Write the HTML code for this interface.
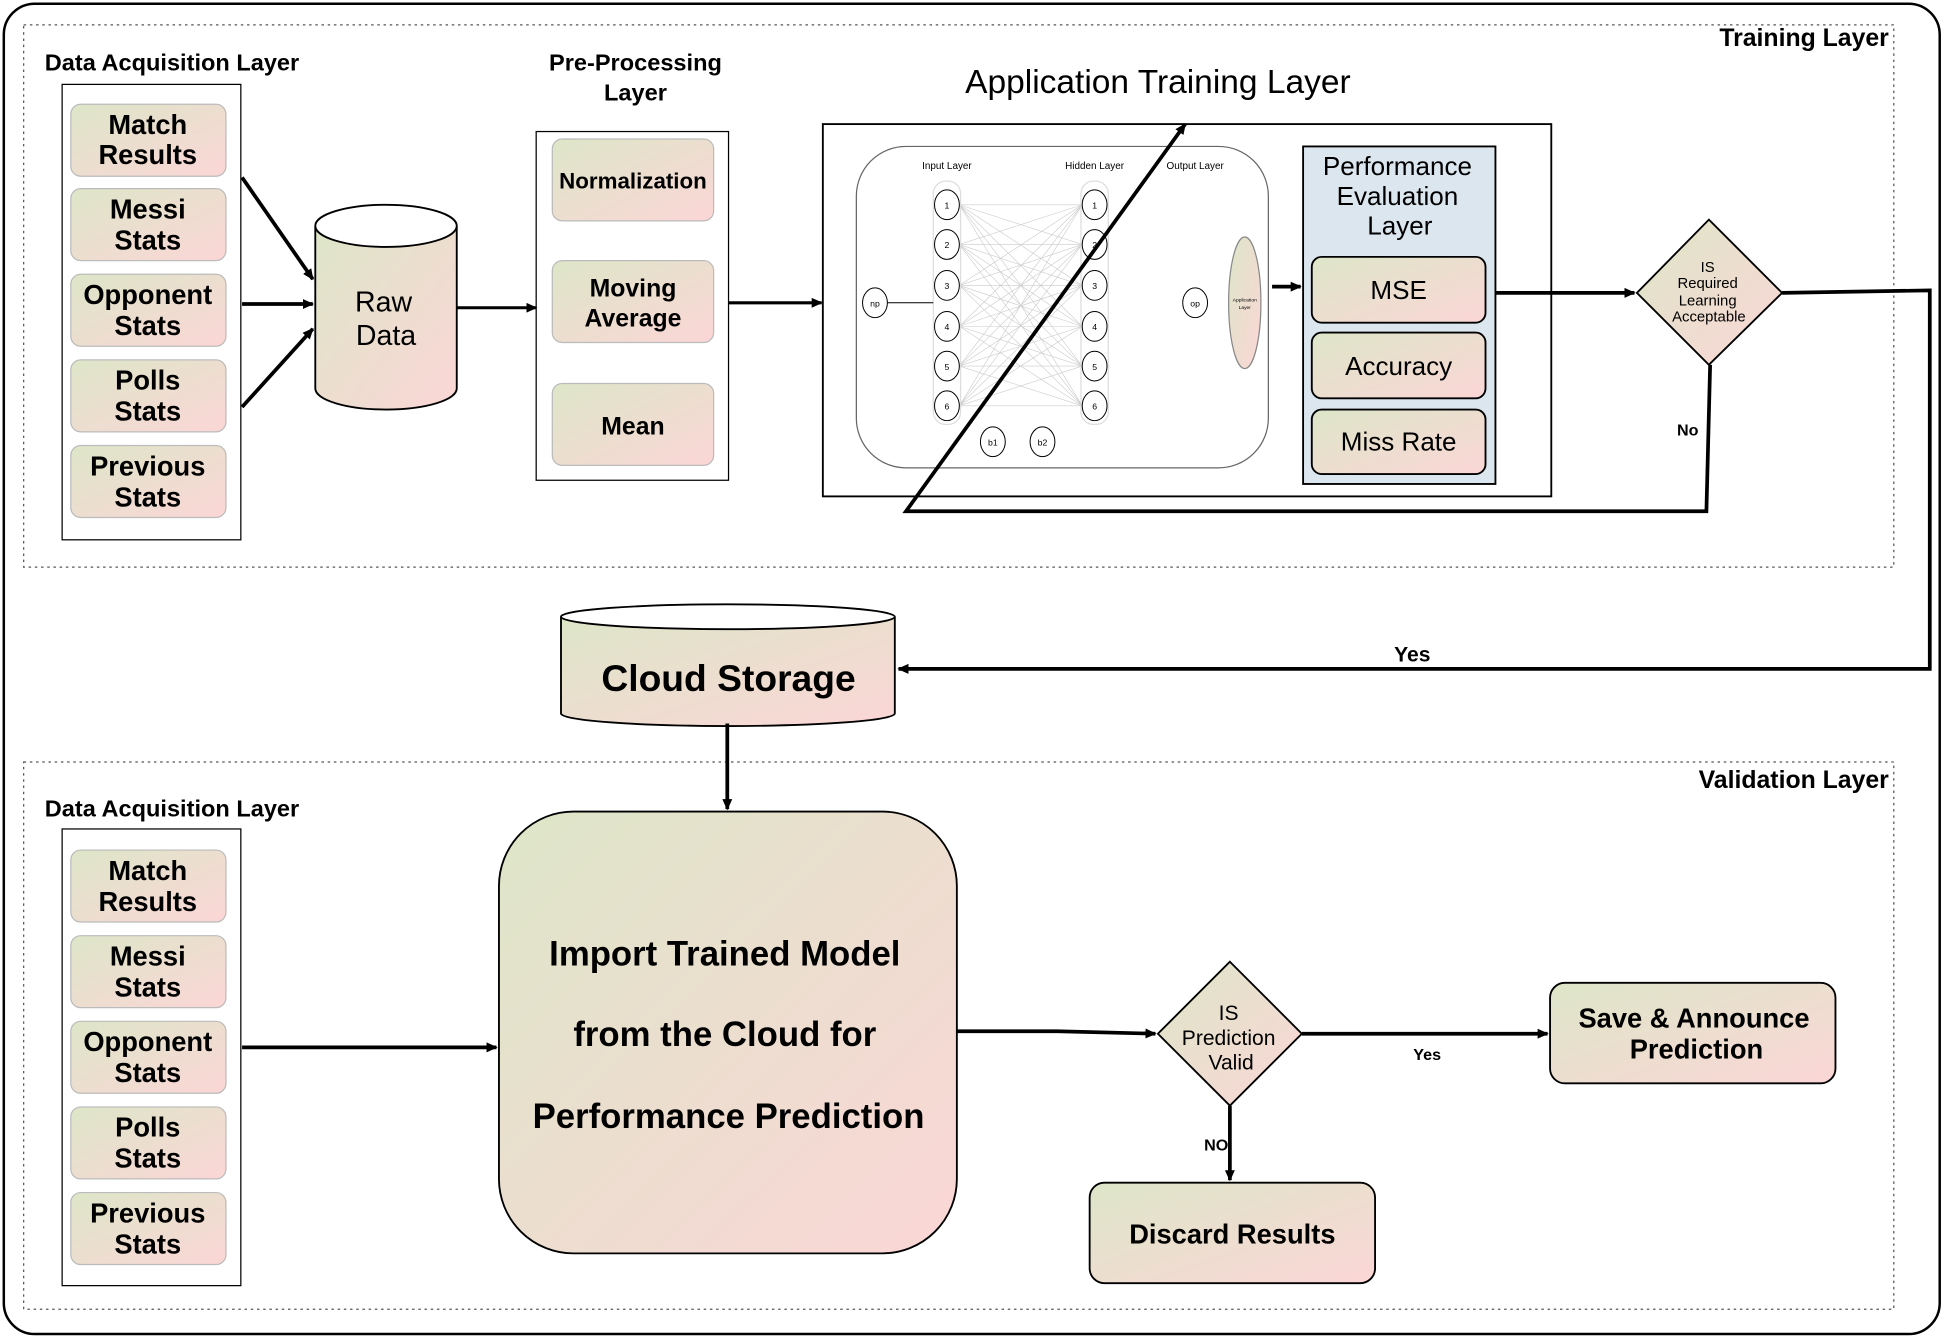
<!DOCTYPE html>
<html><head><meta charset="utf-8"><style>
html,body{margin:0;padding:0;background:#fff;}
svg{display:block;}
text{font-family:"Liberation Sans",sans-serif;}
</style></head><body>
<svg width="1946" height="1339" viewBox="0 0 1568 1079" xmlns="http://www.w3.org/2000/svg">
<defs>
<linearGradient id="g" x1="0" y1="0" x2="1" y2="1">
<stop offset="0" stop-color="#dde6c8"/><stop offset="1" stop-color="#fbd6d6"/>
</linearGradient>
<marker id="a" markerWidth="10" markerHeight="10" refX="8" refY="5" orient="auto" markerUnits="userSpaceOnUse"><path d="M0,1 L9,5 L0,9 z" fill="#000"/></marker>
</defs>
<rect x="3" y="3" width="1560" height="1072" rx="25" fill="#fff" stroke="#000" stroke-width="2"/>
<rect x="19" y="20" width="1507" height="437" fill="none" stroke="#555" stroke-dasharray="2,3"/>
<rect x="19" y="614" width="1507" height="441" fill="none" stroke="#555" stroke-dasharray="2,3"/>
<text x="1522" y="37" text-anchor="end" font-size="20" font-weight="bold">Training Layer</text>
<text x="1522" y="635" text-anchor="end" font-size="20" font-weight="bold">Validation Layer</text>

<g font-weight="bold" font-size="19">
<text x="36" y="57">Data Acquisition Layer</text>
<text x="36" y="658">Data Acquisition Layer</text>
<text x="512" y="57" text-anchor="middle">Pre-Processing</text>
<text x="512" y="81" text-anchor="middle">Layer</text>
</g>
<rect x="50" y="68" width="144" height="367" fill="#fff" stroke="#000"/>
<rect x="50" y="668" width="144" height="368" fill="#fff" stroke="#000"/>
<g stroke="#bbb" fill="url(#g)">
<rect x="57" y="84" width="125" height="58" rx="8"/><rect x="57" y="152" width="125" height="58" rx="8"/><rect x="57" y="221" width="125" height="58" rx="8"/><rect x="57" y="290" width="125" height="58" rx="8"/><rect x="57" y="359" width="125" height="58" rx="8"/>
<rect x="57" y="685" width="125" height="58" rx="8"/><rect x="57" y="754" width="125" height="58" rx="8"/><rect x="57" y="823" width="125" height="58" rx="8"/><rect x="57" y="892" width="125" height="58" rx="8"/><rect x="57" y="961" width="125" height="58" rx="8"/>
</g>
<g font-weight="bold" font-size="22" text-anchor="middle">
<text x="119" y="108">Match</text><text x="119" y="132">Results</text>
<text x="119" y="176">Messi</text><text x="119" y="201">Stats</text>
<text x="119" y="245">Opponent</text><text x="119" y="270">Stats</text>
<text x="119" y="314">Polls</text><text x="119" y="339">Stats</text>
<text x="119" y="383">Previous</text><text x="119" y="408">Stats</text>
<text x="119" y="709">Match</text><text x="119" y="734">Results</text>
<text x="119" y="778">Messi</text><text x="119" y="803">Stats</text>
<text x="119" y="847">Opponent</text><text x="119" y="872">Stats</text>
<text x="119" y="916">Polls</text><text x="119" y="941">Stats</text>
<text x="119" y="985">Previous</text><text x="119" y="1010">Stats</text>
</g>
<!-- Raw data cylinder -->
<path d="M254,182 V313 A57,17 0 0 0 368,313 V182" fill="url(#g)" stroke="#000" stroke-width="1.5"/>
<ellipse cx="311" cy="182" rx="57" ry="17" fill="#fff" stroke="#000" stroke-width="1.5"/>
<text x="309" y="251" text-anchor="middle" font-size="23">Raw</text>
<text x="311" y="278" text-anchor="middle" font-size="23">Data</text>
<!-- preprocessing -->
<rect x="432" y="106" width="155" height="281" fill="#fff" stroke="#000"/>
<g stroke="#bbb" fill="url(#g)">
<rect x="445" y="112" width="130" height="66" rx="8"/><rect x="445" y="210" width="130" height="66" rx="8"/><rect x="445" y="309" width="130" height="66" rx="8"/>
</g>
<g font-weight="bold" font-size="20" text-anchor="middle">
<text x="510" y="152" font-size="18">Normalization</text>
<text x="510" y="239">Moving</text><text x="510" y="263">Average</text>
<text x="510" y="350">Mean</text>
</g>
<text x="933" y="75" text-anchor="middle" font-size="27">Application Training Layer</text>
<rect x="663" y="100" width="587" height="300" fill="none" stroke="#000" stroke-width="1.5"/>
<rect x="690" y="118" width="332" height="259" rx="40" fill="#fff" stroke="#666"/>
<g stroke="#ccc" stroke-width="0.5">
<path d="M773,165L872,165M773,165L872,197M773,165L872,230M773,165L872,263M773,165L872,295M773,165L872,327
M773,197L872,165M773,197L872,197M773,197L872,230M773,197L872,263M773,197L872,295M773,197L872,327
M773,230L872,165M773,230L872,197M773,230L872,230M773,230L872,263M773,230L872,295M773,230L872,327
M773,263L872,165M773,263L872,197M773,263L872,230M773,263L872,263M773,263L872,295M773,263L872,327
M773,295L872,165M773,295L872,197M773,295L872,230M773,295L872,263M773,295L872,295M773,295L872,327
M773,327L872,165M773,327L872,197M773,327L872,230M773,327L872,263M773,327L872,295M773,327L872,327"/>
</g>
<rect x="752" y="146" width="22" height="196" rx="10" fill="none" stroke="#ddd"/>
<rect x="871" y="146" width="22" height="196" rx="10" fill="none" stroke="#ddd"/>
<line x1="715" y1="244" x2="752" y2="244" stroke="#000" stroke-width="0.8"/>
<g fill="#fff" stroke="#000" stroke-width="0.8">
<ellipse cx="763" cy="165" rx="10" ry="12"/><ellipse cx="763" cy="197" rx="10" ry="12"/><ellipse cx="763" cy="230" rx="10" ry="12"/><ellipse cx="763" cy="263" rx="10" ry="12"/><ellipse cx="763" cy="295" rx="10" ry="12"/><ellipse cx="763" cy="327" rx="10" ry="12"/>
<ellipse cx="882" cy="165" rx="10" ry="12"/><ellipse cx="882" cy="197" rx="10" ry="12"/><ellipse cx="882" cy="230" rx="10" ry="12"/><ellipse cx="882" cy="263" rx="10" ry="12"/><ellipse cx="882" cy="295" rx="10" ry="12"/><ellipse cx="882" cy="327" rx="10" ry="12"/>
<ellipse cx="705" cy="244" rx="10" ry="12"/><ellipse cx="963" cy="244" rx="10" ry="12"/>
<ellipse cx="800" cy="356" rx="10" ry="12"/><ellipse cx="840" cy="356" rx="10" ry="12"/>
</g>
<ellipse cx="1003" cy="244" rx="13" ry="53" fill="url(#g)" stroke="#888"/>
<g font-size="7" text-anchor="middle">
<text x="763" y="168">1</text><text x="763" y="200">2</text><text x="763" y="233">3</text><text x="763" y="266">4</text><text x="763" y="298">5</text><text x="763" y="330">6</text>
<text x="882" y="168">1</text><text x="882" y="200">2</text><text x="882" y="233">3</text><text x="882" y="266">4</text><text x="882" y="298">5</text><text x="882" y="330">6</text>
<text x="705" y="247">np</text><text x="963" y="247">op</text><text x="800" y="359">b1</text><text x="840" y="359">b2</text>
<text x="1003" y="243" font-size="4">Application</text><text x="1003" y="249" font-size="4">Layer</text>
<text x="763" y="136" font-size="8">Input Layer</text><text x="882" y="136" font-size="8">Hidden Layer</text><text x="963" y="136" font-size="8">Output Layer</text>
</g>
<rect x="1050" y="118" width="155" height="272" fill="#dce6ef" stroke="#000" stroke-width="1.5"/>
<g font-size="21" text-anchor="middle">
<text x="1126" y="141">Performance</text><text x="1126" y="165">Evaluation</text><text x="1128" y="189">Layer</text>
</g>
<g stroke="#000" stroke-width="1.5" fill="url(#g)">
<rect x="1057" y="207" width="140" height="53" rx="8"/><rect x="1057" y="268" width="140" height="53" rx="8"/><rect x="1057" y="330" width="140" height="52" rx="8"/>
</g>
<g font-size="21" text-anchor="middle">
<text x="1127" y="241">MSE</text><text x="1127" y="302">Accuracy</text><text x="1127" y="363">Miss Rate</text>
</g>
<polygon points="1377,177 1436,236 1377,294 1319,236" fill="url(#g)" stroke="#000" stroke-width="1.5"/>
<g font-size="12" text-anchor="middle">
<text x="1376" y="219">IS</text><text x="1376" y="232">Required</text><text x="1376" y="246">Learning</text><text x="1377" y="259">Acceptable</text>
</g>
<text x="1360" y="351" text-anchor="middle" font-size="13" font-weight="bold">No</text>
<text x="1138" y="533" text-anchor="middle" font-size="17" font-weight="bold">Yes</text>
<!-- cloud -->
<path d="M452,497 V575 A134,10 0 0 0 721,575 V497" fill="url(#g)" stroke="#000" stroke-width="1.5"/>
<ellipse cx="586.5" cy="497" rx="134.5" ry="10" fill="#fff" stroke="#000" stroke-width="1.5"/>
<text x="587" y="557" text-anchor="middle" font-size="30" font-weight="bold">Cloud Storage</text>
<rect x="402" y="654" width="369" height="356" rx="60" fill="url(#g)" stroke="#000" stroke-width="1.5"/>
<g font-size="28" font-weight="bold" text-anchor="middle">
<text x="584" y="778">Import Trained Model</text><text x="584" y="843">from the Cloud for</text><text x="587" y="909">Performance Prediction</text>
</g>
<polygon points="991,775 1049,833 991,891 933,833" fill="url(#g)" stroke="#000" stroke-width="1.5"/>
<g font-size="17" text-anchor="middle">
<text x="990" y="822">IS</text><text x="990" y="842">Prediction</text><text x="992" y="862">Valid</text>
</g>
<text x="1150" y="854" text-anchor="middle" font-size="13" font-weight="bold">Yes</text>
<text x="980" y="927" text-anchor="middle" font-size="13" font-weight="bold">NO</text>
<rect x="1249" y="792" width="230" height="81" rx="12" fill="url(#g)" stroke="#000" stroke-width="1.5"/>
<text x="1365" y="828" text-anchor="middle" font-size="22" font-weight="bold">Save &amp; Announce</text>
<text x="1367" y="853" text-anchor="middle" font-size="22" font-weight="bold">Prediction</text>
<rect x="878" y="953" width="230" height="81" rx="12" fill="url(#g)" stroke="#000" stroke-width="1.5"/>
<text x="993" y="1002" text-anchor="middle" font-size="22" font-weight="bold">Discard Results</text>

<g stroke="#000" stroke-width="3" marker-end="url(#a)">
<line x1="195" y1="143" x2="252" y2="225"/>
<line x1="195" y1="245" x2="252" y2="245"/>
<line x1="195" y1="328" x2="252" y2="265"/>
<line x1="368" y1="248" x2="432" y2="248" stroke-width="2.5"/>
<line x1="587" y1="244" x2="662" y2="244" stroke-width="2.5"/>
<line x1="1205" y1="236" x2="1317" y2="236"/>
<line x1="586" y1="583" x2="586" y2="652"/>
<line x1="195" y1="844" x2="400" y2="844"/>
<polyline points="771,831 852,831 931,833" fill="none"/>
<line x1="1049" y1="833" x2="1247" y2="833"/>
<line x1="991" y1="891" x2="991" y2="951"/>
<polyline points="1436,236 1555,234 1555,539 724,539" fill="none"/>
<polyline points="1378,294 1375,412 730,412 955,100" fill="none"/>
<line x1="1025" y1="231" x2="1048" y2="231"/>
</g>
</svg>
</body></html>
